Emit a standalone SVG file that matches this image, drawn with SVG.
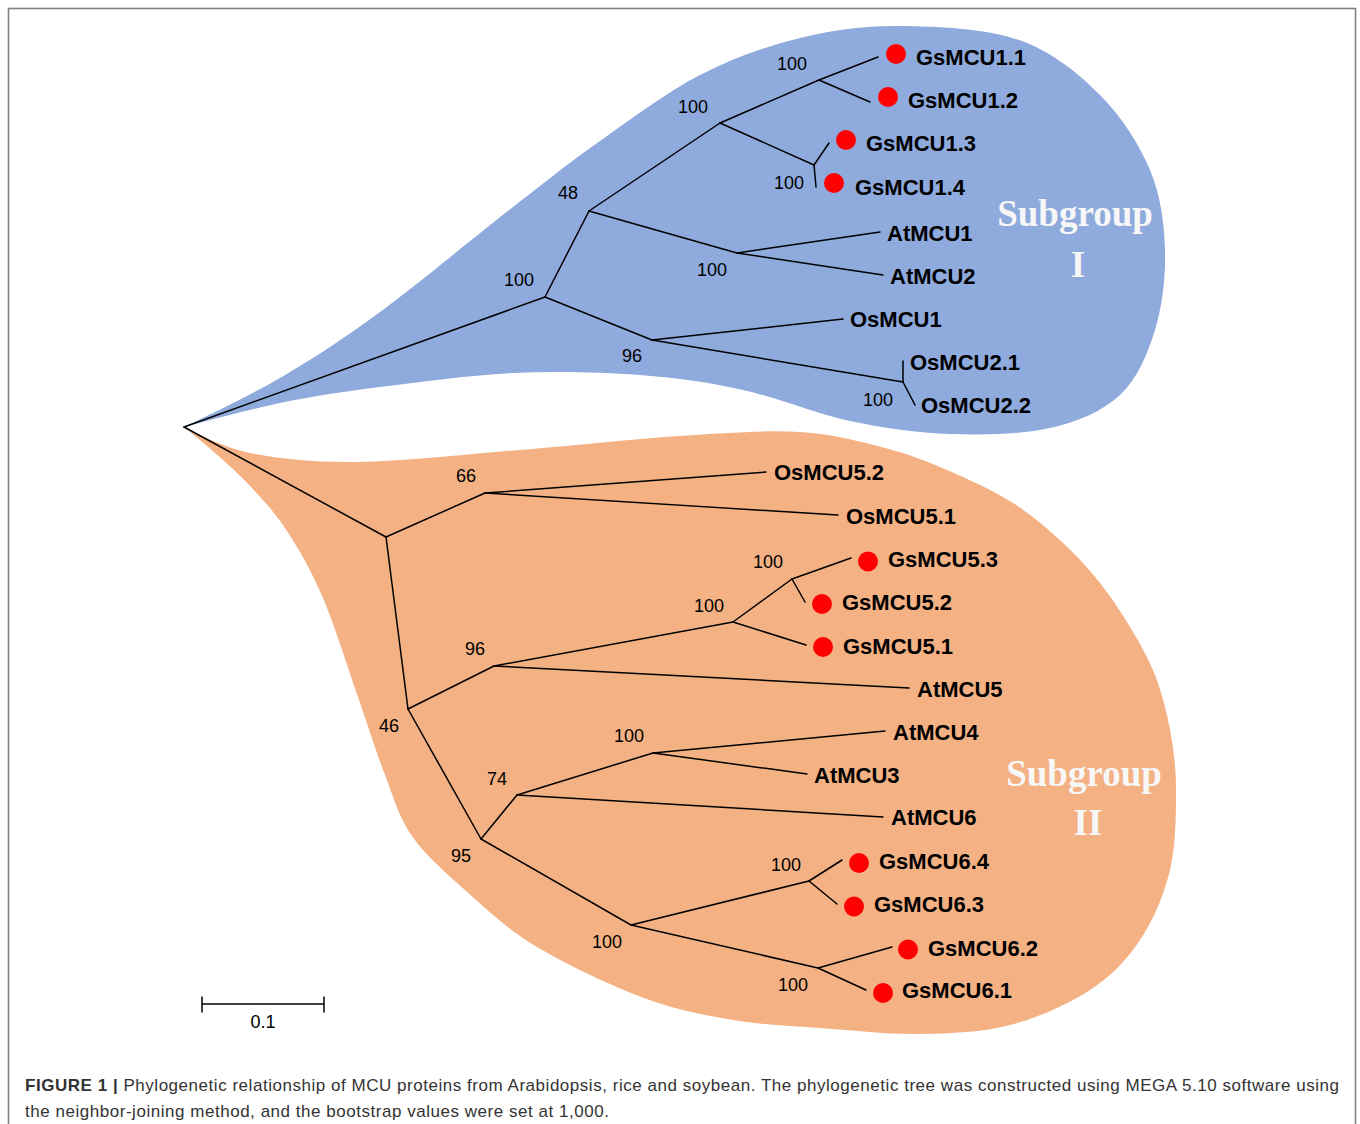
<svg xmlns="http://www.w3.org/2000/svg" width="1360" height="1124" viewBox="0 0 1360 1124">
<defs>
<style>
.br{stroke:#000;stroke-width:1.5;fill:none;stroke-linecap:round;stroke-linejoin:round}
.leaf{font-family:"Liberation Sans",Arial,sans-serif;font-weight:bold;font-size:22px;fill:#000}
.bs{font-family:"Liberation Sans",Arial,sans-serif;font-size:18px;fill:#000;text-anchor:middle}
.dot{fill:#ff0000}
.sg{font-family:"Liberation Serif","DejaVu Serif",serif;font-weight:bold;font-size:37px;fill:#f7f7f7;text-anchor:middle}
.cap{font-family:"Liberation Sans",Arial,sans-serif;font-size:17px;fill:#333}
</style>
</defs>
<rect x="0" y="0" width="1360" height="1124" fill="#fff"/>
<rect x="8.5" y="8.5" width="1347" height="1140" fill="none" stroke="#808080" stroke-width="1.6"/>

<g id="regions">
<path id="subgroup1-region" fill="#8faadc" d="M184,427 C184,427 247.3,397.2 280,378 C312.7,358.8 341.2,340.5 380,312 C418.8,283.5 476.3,235.5 513,207 C549.7,178.5 568.8,163 600,141 C631.2,119 666.7,92.2 700,75 C733.3,57.8 766.7,46.2 800,38 C833.3,29.8 863.5,25.7 900,26 C936.5,26.3 985.7,28.5 1019,40 C1052.3,51.5 1078.2,73.3 1100,95 C1121.8,116.7 1139.2,144.2 1150,170 C1160.8,195.8 1164.2,223.3 1165,250 C1165.8,276.7 1162.5,305.8 1155,330 C1147.5,354.2 1137.5,378.7 1120,395 C1102.5,411.3 1078.3,421.5 1050,428 C1021.7,434.5 983.3,435.2 950,434 C916.7,432.8 884.5,428.3 850,421 C815.5,413.7 778,397.7 743,390 C708,382.3 678.3,377.8 640,375 C601.7,372.2 556.3,371 513,373 C469.7,375 418.8,382 380,387 C341.2,392 312.7,396.3 280,403 C247.3,409.7 184,427 184,427 Z"/>
<path id="subgroup2-region" fill="#f4b183" d="M184,427 C184,427 221,447.2 250,453 C279,458.8 313,462.5 358,462 C403,461.5 466.3,454.3 520,450 C573.7,445.7 633.3,439 680,436 C726.7,433 765.8,430 800,432 C834.2,434 860.5,441.7 885,448 C909.5,454.3 925.7,460.8 947,470 C968.3,479.2 993.7,490.8 1013,503 C1032.3,515.2 1048.5,529.7 1063,543 C1077.5,556.3 1088.8,569 1100,583 C1111.2,597 1120.8,611.7 1130,627 C1139.2,642.3 1148.3,657.8 1155,675 C1161.7,692.2 1166.5,710.8 1170,730 C1173.5,749.2 1176,766.7 1176,790 C1176,813.3 1176,845 1170,870 C1164,895 1153.3,920 1140,940 C1126.7,960 1111.7,975.8 1090,990 C1068.3,1004.2 1038.3,1017.7 1010,1025 C981.7,1032.3 951.7,1033.5 920,1034 C888.3,1034.5 851.2,1030.3 820,1028 C788.8,1025.7 762.3,1025 733,1020 C703.7,1015 676.7,1010.2 644,998 C611.3,985.8 566.7,964.8 537,947 C507.3,929.2 486.8,909.5 466,891 C445.2,872.5 425.5,855.3 412,836 C398.5,816.7 394,798.2 385,775 C376,751.8 368.3,726.5 358,697 C347.7,667.5 334.8,625.7 323,598 C311.2,570.3 299,549.5 287,531 C275,512.5 263.2,500.2 251,487 C238.8,473.8 225.2,462 214,452 C202.8,442 184,427 184,427 Z"/>
</g>

<g id="connectors">
<!-- Subgroup I -->
<path class="br" d="M184,427 L545,297"/>
<path class="br" d="M545,297 L589,211"/>
<path class="br" d="M545,297 L652,340"/>
<path class="br" d="M589,211 L720,123"/>
<path class="br" d="M589,211 L737,253"/>
<path class="br" d="M720,123 L819,80"/>
<path class="br" d="M720,123 L814,165"/>
<path class="br" d="M819,80 L878,57"/>
<path class="br" d="M819,80 L870,102"/>
<path class="br" d="M814,165 L829,143"/>
<path class="br" d="M814,165 L816,187"/>
<path class="br" d="M737,253 L880,232"/>
<path class="br" d="M737,253 L883,275"/>
<path class="br" d="M652,340 L843,319"/>
<path class="br" d="M652,340 L903,382"/>
<path class="br" d="M903,382 L903,361"/>
<path class="br" d="M903,382 L915,405"/>
<!-- Subgroup II -->
<path class="br" d="M184,427 L386,537"/>
<path class="br" d="M386,537 L485,493"/>
<path class="br" d="M386,537 L408,709"/>
<path class="br" d="M485,493 L766,472"/>
<path class="br" d="M485,493 L838,515"/>
<path class="br" d="M408,709 L494,666"/>
<path class="br" d="M408,709 L481,839"/>
<path class="br" d="M494,666 L733,622"/>
<path class="br" d="M494,666 L909,688"/>
<path class="br" d="M733,622 L792,579"/>
<path class="br" d="M733,622 L806,645"/>
<path class="br" d="M792,579 L851,558"/>
<path class="br" d="M792,579 L805,602"/>
<path class="br" d="M481,839 L517,795"/>
<path class="br" d="M481,839 L631,925"/>
<path class="br" d="M517,795 L653,753"/>
<path class="br" d="M517,795 L883,817"/>
<path class="br" d="M653,753 L885,731"/>
<path class="br" d="M653,753 L807,774"/>
<path class="br" d="M631,925 L809,881"/>
<path class="br" d="M631,925 L818,968"/>
<path class="br" d="M809,881 L842,860"/>
<path class="br" d="M809,881 L837,904"/>
<path class="br" d="M818,968 L892,947"/>
<path class="br" d="M818,968 L866,990"/>
</g>

<g id="bootstrap">
<text class="bs" x="792" y="70">100</text>
<text class="bs" x="693" y="113">100</text>
<text class="bs" x="789" y="189">100</text>
<text class="bs" x="568" y="199">48</text>
<text class="bs" x="712" y="276">100</text>
<text class="bs" x="519" y="286">100</text>
<text class="bs" x="632" y="362">96</text>
<text class="bs" x="878" y="406">100</text>
<text class="bs" x="466" y="482">66</text>
<text class="bs" x="389" y="732">46</text>
<text class="bs" x="475" y="655">96</text>
<text class="bs" x="461" y="862">95</text>
<text class="bs" x="497" y="785">74</text>
<text class="bs" x="629" y="742">100</text>
<text class="bs" x="607" y="948">100</text>
<text class="bs" x="709" y="612">100</text>
<text class="bs" x="768" y="568">100</text>
<text class="bs" x="786" y="871">100</text>
<text class="bs" x="793" y="991">100</text>
</g>

<g id="GsMCU1.1"><circle class="dot" cx="896" cy="54" r="10"/><text class="leaf" x="916" y="65">GsMCU1.1</text></g>
<g id="GsMCU1.2"><circle class="dot" cx="888" cy="97" r="10"/><text class="leaf" x="908" y="108">GsMCU1.2</text></g>
<g id="GsMCU1.3"><circle class="dot" cx="846" cy="140" r="10"/><text class="leaf" x="866" y="151">GsMCU1.3</text></g>
<g id="GsMCU1.4"><circle class="dot" cx="834" cy="183" r="10"/><text class="leaf" x="855" y="195">GsMCU1.4</text></g>
<g id="AtMCU1"><text class="leaf" x="887" y="241">AtMCU1</text></g>
<g id="AtMCU2"><text class="leaf" x="890" y="284">AtMCU2</text></g>
<g id="OsMCU1"><text class="leaf" x="850" y="327">OsMCU1</text></g>
<g id="OsMCU2.1"><text class="leaf" x="910" y="370">OsMCU2.1</text></g>
<g id="OsMCU2.2"><text class="leaf" x="921" y="413">OsMCU2.2</text></g>

<g id="OsMCU5.2"><text class="leaf" x="774" y="480">OsMCU5.2</text></g>
<g id="OsMCU5.1"><text class="leaf" x="846" y="524">OsMCU5.1</text></g>
<g id="GsMCU5.3"><circle class="dot" cx="868" cy="561.5" r="10"/><text class="leaf" x="888" y="567">GsMCU5.3</text></g>
<g id="GsMCU5.2"><circle class="dot" cx="822" cy="604" r="10"/><text class="leaf" x="842" y="610">GsMCU5.2</text></g>
<g id="GsMCU5.1"><circle class="dot" cx="823" cy="647" r="10"/><text class="leaf" x="843" y="654">GsMCU5.1</text></g>
<g id="AtMCU5"><text class="leaf" x="917" y="697">AtMCU5</text></g>
<g id="AtMCU4"><text class="leaf" x="893" y="740">AtMCU4</text></g>
<g id="AtMCU3"><text class="leaf" x="814" y="783">AtMCU3</text></g>
<g id="AtMCU6"><text class="leaf" x="891" y="825">AtMCU6</text></g>
<g id="GsMCU6.4"><circle class="dot" cx="859" cy="863" r="10"/><text class="leaf" x="879" y="869">GsMCU6.4</text></g>
<g id="GsMCU6.3"><circle class="dot" cx="854" cy="906.5" r="10"/><text class="leaf" x="874" y="912">GsMCU6.3</text></g>
<g id="GsMCU6.2"><circle class="dot" cx="908" cy="949.5" r="10"/><text class="leaf" x="928" y="956">GsMCU6.2</text></g>
<g id="GsMCU6.1"><circle class="dot" cx="883" cy="993" r="10"/><text class="leaf" x="902" y="998">GsMCU6.1</text></g>

<g id="subgroup-labels">
<text class="sg" x="1075" y="226">Subgroup</text>
<text class="sg" x="1078" y="277">I</text>
<text class="sg" x="1084" y="786">Subgroup</text>
<text class="sg" x="1088" y="835">II</text>
</g>

<g id="scale-bar">
<path class="br" d="M202,1004 L324,1004 M202,997 L202,1012 M324,997 L324,1012"/>
<text class="bs" x="263" y="1028">0.1</text>
</g>

<g id="caption">
<text class="cap" x="25" y="1091" textLength="1314" lengthAdjust="spacing"><tspan font-weight="bold">FIGURE 1 |</tspan> Phylogenetic relationship of MCU proteins from Arabidopsis, rice and soybean. The phylogenetic tree was constructed using MEGA 5.10 software using</text>
<text class="cap" x="25" y="1117" textLength="584" lengthAdjust="spacing">the neighbor-joining method, and the bootstrap values were set at 1,000.</text>
</g>
</svg>
